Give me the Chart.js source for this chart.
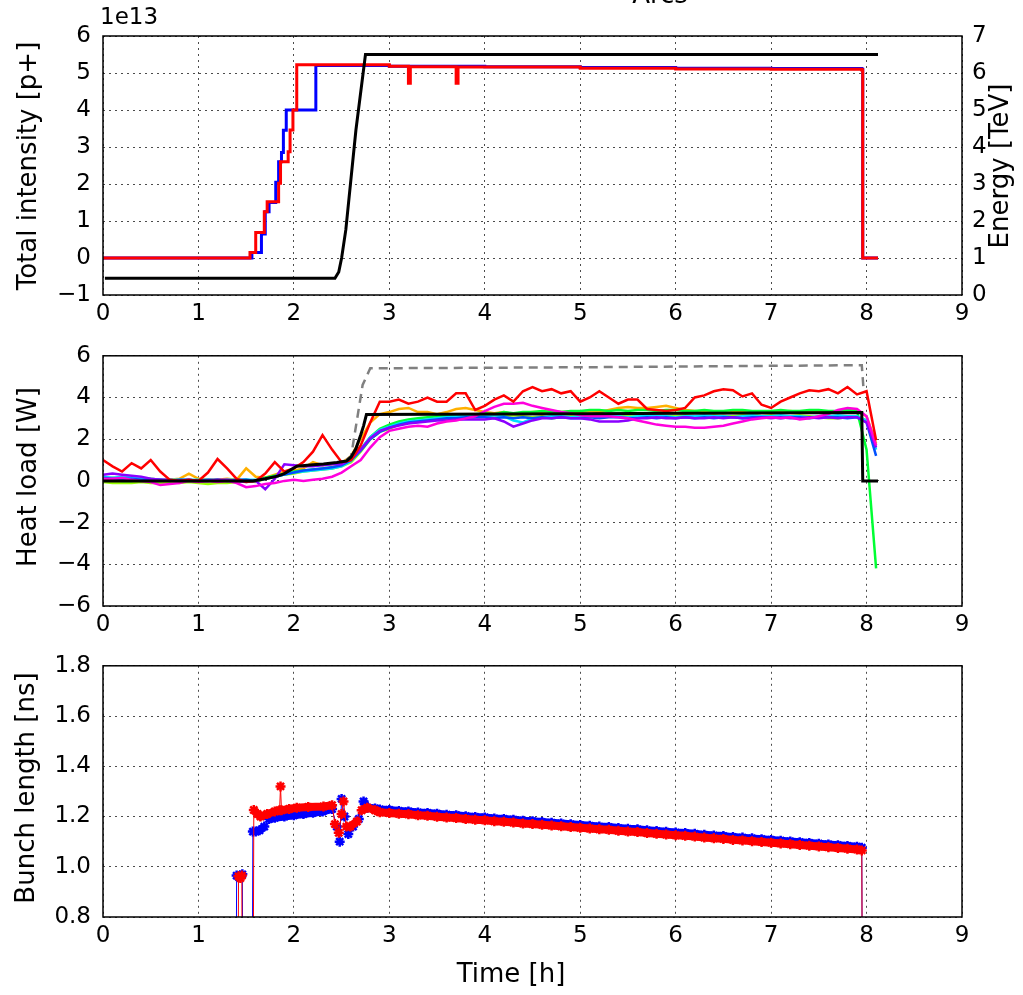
<!DOCTYPE html>
<html lang="en">
<head>
  <meta charset="UTF-8" />
  <title>Arcs - intensity, heat load, bunch length</title>
  <script src="https://cdn.jsdelivr.net/npm/chart.js"></script>
  <style>
    body {
      margin: 0;
      background: #fff;
      width: 1023px;
      height: 995px;
      overflow: hidden;
      position: relative;
      font-family: 'DejaVu Sans', sans-serif;
    }
    .panel { position: absolute; left: 0; width: 1023px; }
    #panelA { top: 0; height: 330px; }
    #panelB { top: 330px; height: 310px; }
    #panelC { top: 640px; height: 355px; }
  </style>
</head>
<body>
  <div class="panel" id="panelA"><canvas id="intChart"></canvas></div>
  <div class="panel" id="panelB"><canvas id="heatChart"></canvas></div>
  <div class="panel" id="panelC"><canvas id="blChart"></canvas></div>

  <script>
    // ---- top panel: total intensity (1e13 p+) and energy (TeV) ----
    const intBlueT = [0, 1.56, 1.66, 1.70, 1.74, 1.81, 1.84, 1.87, 1.89, 1.92, 2.23, 3.0, 4.0, 5.0, 6.0, 7.0, 7.95, 7.96, 8.12];
    const intBlue  = [0, 0.15, 0.65, 1.25, 1.5, 2.05, 2.6, 2.85, 3.45, 4.0, 5.2, 5.18, 5.17, 5.15, 5.13, 5.12, 5.1, 0, 0];
    const intRedT  = [0, 1.54, 1.60, 1.69, 1.72, 1.84, 1.86, 1.94, 1.96, 1.99, 2.03, 3.0, 3.2, 3.22, 3.7, 3.72, 5.0, 6.0, 7.0, 7.95, 7.96, 8.12];
    const intRed   = [0, 0.15, 0.69, 1.25, 1.52, 2.02, 2.6, 2.87, 3.46, 4.0, 5.22, 5.18, 4.72, 5.17, 4.72, 5.16, 5.13, 5.11, 5.1, 5.08, 0, 0];
    const energyT  = [0.02, 2.43, 2.47, 2.50, 2.544, 2.65, 2.75, 8.12];
    const energy   = [0.45, 0.45, 0.62, 1.0, 1.76, 4.46, 6.5, 6.5];

    // ---- middle panel: heat load (W), one value per 0.1 h ----
    const hlT = [0, 0.1, 0.2, 0.3, 0.4, 0.5, 0.6, 0.7, 0.8, 0.9,
      1.0, 1.1, 1.2, 1.3, 1.4, 1.5, 1.6, 1.7, 1.8, 1.9,
      2.0, 2.1, 2.2, 2.3, 2.4, 2.5, 2.6, 2.7, 2.8, 2.9,
      3.0, 3.1, 3.2, 3.3, 3.4, 3.5, 3.6, 3.7, 3.8, 3.9,
      4.0, 4.1, 4.2, 4.3, 4.4, 4.5, 4.6, 4.7, 4.8, 4.9,
      5.0, 5.1, 5.2, 5.3, 5.4, 5.5, 5.6, 5.7, 5.8, 5.9,
      6.0, 6.1, 6.2, 6.3, 6.4, 6.5, 6.6, 6.7, 6.8, 6.9,
      7.0, 7.1, 7.2, 7.3, 7.4, 7.5, 7.6, 7.7, 7.8, 7.9,
      8.0, 8.1];
    const hlRed = [1.0, 0.7, 0.45, 0.85, 0.6, 1.0, 0.45, 0.05, 0.0, 0.05,
      0.0, 0.4, 1.05, 0.6, 0.1, -0.05, 0.0, 0.35, 0.9, 0.45,
      0.6, 0.9, 1.4, 2.2, 1.5, 0.9, 1.0, 1.7, 2.8, 3.8,
      3.8, 3.9, 3.7, 3.8, 4.0, 3.8, 3.8, 4.2, 4.2, 3.4,
      3.6, 3.9, 4.1, 3.8, 4.3, 4.5, 4.3, 4.4, 4.2, 4.3,
      3.8, 4.0, 4.3, 4.0, 3.7, 3.9, 3.9, 3.45, 3.4, 3.35,
      3.4, 3.5, 4.0, 4.1, 4.3, 4.4, 4.35, 4.05, 4.2, 3.65,
      3.5, 3.8, 4.0, 4.2, 4.35, 4.3, 4.4, 4.2, 4.5, 4.15,
      4.3, 1.95];
    const hlOrange = [0.1, 0.15, 0.1, 0.1, 0.05, 0.1, 0.05, 0.05, 0.1, 0.35,
      0.1, 0.05, 0.05, 0.1, 0.05, 0.6, 0.2, 0.15, 0.3, 0.45,
      0.5, 0.6, 0.9, 0.75, 0.8, 0.85, 1.2, 2.0, 2.8, 3.2,
      3.3, 3.45, 3.5, 3.3, 3.3, 3.2, 3.3, 3.45, 3.5, 3.4,
      3.3, 3.25, 3.3, 3.2, 3.25, 3.3, 3.3, 3.35, 3.3, 3.3,
      3.3, 3.35, 3.3, 3.4, 3.5, 3.55, 3.5, 3.5, 3.55, 3.6,
      3.5, 3.4, 3.35, 3.3, 3.3, 3.25, 3.3, 3.3, 3.25, 3.3,
      3.3, 3.3, 3.35, 3.3, 3.3, 3.35, 3.3, 3.3, 3.4, 3.35,
      3.1, 1.8];
    const hlLime = [-0.05, -0.1, -0.1, -0.1, -0.05, -0.1, -0.1, -0.05, -0.1, -0.05,
      -0.1, -0.15, -0.1, -0.1, -0.05, 0.0, -0.05, 0.1, 0.2, 0.3,
      0.35, 0.45, 0.5, 0.55, 0.6, 0.7, 0.9, 1.4, 2.0, 2.35,
      2.5, 2.7, 2.8, 2.85, 2.9, 3.0, 2.95, 3.05, 3.1, 3.1,
      3.1, 3.15, 3.1, 3.15, 3.1, 3.05, 3.1, 3.0, 3.05, 3.1,
      3.15, 3.1, 3.1, 3.15, 3.2, 3.15, 3.1, 3.05, 3.1, 3.1,
      3.1, 3.15, 3.1, 3.1, 3.15, 3.1, 3.1, 3.15, 3.2, 3.1,
      3.15, 3.1, 3.1, 3.15, 3.1, 3.05, 3.0, 3.0, 3.05, 3.1,
      2.9, 1.7];
    const hlGreen = [0.0, 0.05, 0.0, 0.0, 0.05, 0.0, 0.0, 0.05, 0.0, 0.0,
      0.0, 0.0, 0.05, 0.0, 0.0, 0.05, 0.0, 0.15, 0.25, 0.35,
      0.45, 0.5, 0.55, 0.6, 0.65, 0.75, 1.0, 1.5, 2.1, 2.5,
      2.7, 2.85, 2.95, 3.0, 3.05, 3.1, 3.1, 3.15, 3.2, 3.2,
      3.25, 3.2, 3.3, 3.25, 3.3, 3.3, 3.35, 3.3, 3.3, 3.35,
      3.35, 3.4, 3.4, 3.35, 3.4, 3.35, 3.4, 3.4, 3.35, 3.4,
      3.4, 3.35, 3.35, 3.4, 3.35, 3.35, 3.4, 3.4, 3.35, 3.35,
      3.35, 3.4, 3.35, 3.35, 3.4, 3.4, 3.35, 3.35, 3.4, 3.35,
      1.5, -4.2];
    const hlCyan = [0.2, 0.15, 0.2, 0.15, 0.1, 0.1, 0.05, 0.05, 0.05, 0.05,
      0.05, 0.05, 0.0, 0.05, 0.05, 0.05, 0.05, 0.1, 0.2, 0.3,
      0.4, 0.45, 0.5, 0.55, 0.6, 0.7, 0.95, 1.5, 2.1, 2.45,
      2.6, 2.75, 2.85, 2.9, 2.95, 3.0, 3.05, 3.1, 3.1, 3.15,
      3.1, 3.15, 3.1, 2.9, 2.8, 3.0, 3.05, 3.1, 3.1, 3.05,
      3.1, 3.1, 3.05, 3.1, 3.1, 3.05, 3.1, 3.15, 3.1, 3.1,
      3.05, 3.1, 3.1, 3.15, 3.1, 3.1, 3.05, 3.1, 3.15, 3.1,
      3.1, 3.15, 3.1, 3.1, 3.05, 3.1, 3.1, 3.15, 3.1, 3.1,
      2.9, 1.5];
    const hlBlue = [0.15, 0.1, 0.1, 0.1, 0.05, 0.05, 0.05, 0.0, 0.05, 0.05,
      0.0, 0.05, 0.05, 0.0, 0.05, 0.05, 0.0, 0.1, 0.2, 0.3,
      0.4, 0.5, 0.55, 0.6, 0.65, 0.75, 1.0, 1.45, 2.0, 2.35,
      2.55, 2.7, 2.8, 2.85, 2.9, 2.95, 3.0, 3.0, 3.05, 3.05,
      3.05, 3.0, 3.05, 3.0, 3.05, 3.0, 3.05, 3.0, 3.05, 3.0,
      3.0, 3.05, 3.0, 3.05, 3.05, 3.0, 3.0, 3.05, 3.0, 3.05,
      3.0, 3.05, 3.0, 3.05, 3.0, 3.05, 3.05, 3.0, 3.05, 3.05,
      3.05, 3.0, 3.05, 3.05, 3.0, 3.05, 3.05, 3.05, 3.0, 3.05,
      2.8, 1.2];
    const hlPurple = [0.3, 0.35, 0.3, 0.25, 0.2, 0.1, 0.05, 0.05, 0.0, 0.05,
      0.0, 0.0, 0.05, 0.05, 0.0, -0.05, 0.0, -0.4, 0.1, 0.8,
      0.75, 0.7, 0.7, 0.75, 0.8, 0.8, 1.05, 1.5, 2.05, 2.4,
      2.55, 2.65, 2.75, 2.8, 2.85, 2.9, 2.9, 2.95, 2.95, 2.95,
      2.95, 3.0, 2.85, 2.6, 2.75, 2.9, 3.0, 3.0, 3.05, 3.0,
      3.0, 2.95, 2.85, 2.85, 2.85, 2.9, 3.0, 3.0, 3.05, 3.0,
      3.0, 3.05, 3.0, 3.0, 3.05, 3.0, 3.05, 3.0, 3.0, 3.05,
      3.0, 3.05, 3.0, 3.0, 3.05, 3.0, 3.05, 3.0, 3.05, 3.05,
      2.8, 1.6];
    const hlMagenta = [0.1, 0.1, 0.15, 0.05, 0.0, -0.05, -0.2, -0.15, -0.1, 0.0,
      -0.05, 0.0, -0.05, 0.0, -0.1, -0.3, -0.25, -0.15, -0.1, 0.0,
      0.05, 0.0, 0.05, 0.1, 0.2, 0.4, 0.7, 1.0, 1.6, 2.1,
      2.4, 2.5, 2.6, 2.65, 2.6, 2.75, 2.85, 2.9, 3.0, 3.1,
      3.35, 3.55, 3.7, 3.7, 3.75, 3.6, 3.5, 3.4, 3.3, 3.25,
      3.15, 3.1, 3.1, 3.1, 3.05, 3.0, 2.9, 2.8, 2.7, 2.65,
      2.6, 2.6, 2.55, 2.55, 2.6, 2.65, 2.75, 2.85, 2.95, 3.0,
      3.05, 3.0, 3.05, 2.95, 3.0, 3.1, 3.2, 3.4, 3.5, 3.45,
      3.1, 1.7];
    const modelT = [0, 1.57, 1.7, 1.83, 1.9, 2.03, 2.2, 2.31, 2.45, 2.55, 2.6, 2.65, 2.7, 2.73, 2.76, 5.0, 7.95, 7.96, 8.12];
    const model  = [0, 0, 0.1, 0.23, 0.35, 0.7, 0.78, 0.81, 0.88, 0.95, 1.15, 1.55, 2.2, 2.64, 3.18, 3.22, 3.28, 0, 0];
    const scaledT = [2.55, 2.6, 2.72, 2.8, 5.0, 7.95, 7.97];
    const scaled  = [1.0, 1.2, 4.6, 5.4, 5.45, 5.55, 4.3];

    // ---- bottom panel: bunch length (ns) ----
    const blBlueT = [1.39, 1.40, 1.42, 1.44, 1.46, 1.47, 1.56, 1.57, 1.60, 1.64, 1.69, 1.74, 1.80, 1.90, 2.00, 2.10, 2.20, 2.30, 2.40, 2.45, 2.48, 2.50, 2.53, 2.57, 2.62, 2.68, 2.73, 2.77, 2.85,
      2.9, 3.0, 3.1, 3.2, 3.3, 3.4, 3.5, 3.6, 3.7, 3.8, 3.9,
      4.0, 4.1, 4.2, 4.3, 4.4, 4.5, 4.6, 4.7, 4.8, 4.9,
      5.0, 5.1, 5.2, 5.3, 5.4, 5.5, 5.6, 5.7, 5.8, 5.9,
      6.0, 6.1, 6.2, 6.3, 6.4, 6.5, 6.6, 6.7, 6.8, 6.9,
      7.0, 7.1, 7.2, 7.3, 7.4, 7.5, 7.6, 7.7, 7.8, 7.9,
      7.95, 7.96];
    const blBlue = [0, 0.965, 0.96, 0.965, 0.97, 0, 0, 1.14, 1.14, 1.145, 1.16, 1.19, 1.195, 1.20, 1.205, 1.21, 1.215, 1.22, 1.23, 1.16, 1.10, 1.27, 1.20, 1.13, 1.16, 1.19, 1.26, 1.235, 1.232,
      1.228, 1.226, 1.222, 1.220, 1.216, 1.214, 1.211, 1.207, 1.205, 1.201, 1.198,
      1.196, 1.192, 1.190, 1.187, 1.183, 1.181, 1.178, 1.175, 1.172, 1.169,
      1.166, 1.163, 1.160, 1.158, 1.154, 1.151, 1.149, 1.145, 1.142, 1.139,
      1.136, 1.134, 1.131, 1.127, 1.124, 1.122, 1.118, 1.116, 1.113, 1.110,
      1.107, 1.104, 1.101, 1.098, 1.095, 1.092, 1.089, 1.086, 1.083, 1.080,
      1.076, 0];
    const blRedT = [1.41, 1.42, 1.44, 1.455, 1.46, 1.57, 1.58, 1.62, 1.65, 1.72, 1.80, 1.85, 1.86, 1.87, 1.95, 2.03, 2.15, 2.31, 2.40, 2.43, 2.47, 2.50, 2.52, 2.55, 2.59, 2.66, 2.71, 2.77, 2.85,
      2.9, 3.0, 3.1, 3.2, 3.3, 3.4, 3.5, 3.6, 3.7, 3.8, 3.9,
      4.0, 4.1, 4.2, 4.3, 4.4, 4.5, 4.6, 4.7, 4.8, 4.9,
      5.0, 5.1, 5.2, 5.3, 5.4, 5.5, 5.6, 5.7, 5.8, 5.9,
      6.0, 6.1, 6.2, 6.3, 6.4, 6.5, 6.6, 6.7, 6.8, 6.9,
      7.0, 7.1, 7.2, 7.3, 7.4, 7.5, 7.6, 7.7, 7.8, 7.9,
      7.95, 7.96];
    const blRed = [0, 0.962, 0.955, 0.965, 0, 0, 1.226, 1.21, 1.20, 1.21, 1.22, 1.225, 1.32, 1.225, 1.23, 1.235, 1.238, 1.24, 1.245, 1.17, 1.135, 1.21, 1.26, 1.16, 1.16, 1.18, 1.225, 1.235, 1.225,
      1.217, 1.214, 1.211, 1.209, 1.205, 1.203, 1.199, 1.196, 1.194, 1.190, 1.187,
      1.185, 1.181, 1.179, 1.176, 1.172, 1.170, 1.167, 1.164, 1.161, 1.158,
      1.155, 1.152, 1.149, 1.147, 1.143, 1.140, 1.138, 1.134, 1.131, 1.128,
      1.125, 1.123, 1.120, 1.116, 1.113, 1.111, 1.107, 1.105, 1.102, 1.099,
      1.096, 1.093, 1.090, 1.087, 1.084, 1.081, 1.078, 1.075, 1.072, 1.069,
      1.065, 0];

    Chart.defaults.font.family = "'DejaVu Sans', sans-serif";
    Chart.defaults.font.size = 23;
    Chart.defaults.color = '#000';
    Chart.defaults.animation = false;
    Chart.defaults.plugins.legend.display = false;
    Chart.defaults.plugins.tooltip.enabled = false;

    function pts(xs, ys) {
      return xs.map((x, i) => ({ x, y: ys[i] }));
    }

    function line(xs, ys, color, width, extra) {
      return Object.assign({
        data: pts(xs, ys),
        borderColor: color,
        backgroundColor: color,
        borderWidth: width,
        pointRadius: 0,
        tension: 0
      }, extra || {});
    }

    // matplotlib style minus sign
    const num = v => (v < 0 ? '\u2212' + Math.abs(v) : '' + v);

    // box round the plot area + free text (axis titles, offset text)
    const frame = {
      id: 'frame',
      afterDraw(chart, args, opts) {
        const { ctx, chartArea: a } = chart;
        ctx.save();
        ctx.strokeStyle = '#000';
        ctx.lineWidth = 1.5;
        ctx.strokeRect(a.left, a.top, a.right - a.left, a.bottom - a.top);
        ctx.fillStyle = '#000';
        (opts.texts || []).forEach(t => {
          ctx.save();
          ctx.font = (t.size || 26) + "px 'DejaVu Sans'";
          ctx.textAlign = t.align || 'center';
          ctx.textBaseline = t.base || 'middle';
          ctx.translate(t.x, t.y);
          if (t.rot) ctx.rotate(t.rot);
          ctx.fillText(t.text, 0, 0);
          ctx.restore();
        });
        ctx.restore();
      }
    };

    const gridStyle = { color: 'rgba(0,0,0,0.7)', lineWidth: 1, drawTicks: false };
    const dotted = { display: false, dash: [2, 4] };

    function xScale(h) {
      return {
        type: 'linear', min: 0, max: 9,
        ticks: { stepSize: 1, padding: 5, maxRotation: 0 },
        grid: gridStyle,
        border: dotted,
        afterFit: s => { s.height = h; }
      };
    }

    function yScale(min, max, step, fmt) {
      return {
        type: 'linear', position: 'left', min, max,
        ticks: { stepSize: step, padding: 12, callback: fmt || num },
        grid: gridStyle,
        border: dotted,
        afterFit: s => { s.width = 103; }
      };
    }

    const UP = -Math.PI / 2;

    new Chart(document.getElementById('intChart'), {
      type: 'line',
      data: {
        datasets: [
          line(energyT, energy, '#000000', 3, { yAxisID: 'y2' }),
          line(intRedT, intRed, '#ff0000', 3, { stepped: true }),
          line(intBlueT, intBlue, '#0000ff', 3, { stepped: true })
        ]
      },
      options: {
        responsive: true,
        maintainAspectRatio: false,
        layout: { padding: { top: 36, right: 0, bottom: 0, left: 0 } },
        scales: {
          x: xScale(35),
          y: yScale(-1, 6, 1),
          y2: {
            type: 'linear', position: 'right', min: 0, max: 7,
            ticks: { stepSize: 1, padding: 10 },
            grid: { display: false, drawTicks: false },
            border: { display: false },
            afterFit: s => { s.width = 61; }
          }
        },
        plugins: {
          frame: {
            texts: [
              { text: 'Total intensity [p+]', x: 29, y: 166, rot: UP },
              { text: 'Energy [TeV]', x: 1001, y: 166, rot: UP },
              { text: '1e13', x: 100, y: 30, align: 'left', base: 'bottom', size: 23 },
              { text: 'Arcs', x: 660, y: 3, base: 'alphabetic' }
            ]
          }
        }
      },
      plugins: [frame]
    });

    new Chart(document.getElementById('heatChart'), {
      type: 'line',
      data: {
        datasets: [
          line(modelT, model, '#000000', 3),
          line(scaledT, scaled, '#808080', 2.5, { borderDash: [9, 6] }),
          line(hlT, hlRed, '#ff0000', 2.5),
          line(hlT, hlMagenta, '#ff00dd', 2.5),
          line(hlT, hlPurple, '#8a00ff', 2.5),
          line(hlT, hlBlue, '#0050ff', 2.5),
          line(hlT, hlCyan, '#00e0ff', 2.5),
          line(hlT, hlGreen, '#00ff33', 2.5),
          line(hlT, hlLime, '#99ff00', 2.5),
          line(hlT, hlOrange, '#ffb000', 2.5)
        ]
      },
      options: {
        responsive: true,
        maintainAspectRatio: false,
        layout: { padding: { top: 18, right: 61, bottom: 0, left: 0 } },
        scales: {
          x: xScale(34),
          y: yScale(-6, 6, 2)
        },
        plugins: {
          frame: {
            texts: [
              { text: 'Heat load [W]', x: 29, y: 147, rot: UP }
            ]
          }
        }
      },
      plugins: [frame]
    });

    // dense markers merge into a thick band; jumps and connectors stay thin
    const marker = {
      pointStyle: 'star', pointRadius: 5, pointBorderWidth: 2.5,
      segment: {
        borderWidth: c => {
          const a = c.p0.parsed, b = c.p1.parsed;
          return a.y > 0.8 && b.y > 0.8 && a.x >= 1.58 && Math.abs(b.y - a.y) < 0.03 ? 8 : 1;
        }
      }
    };

    new Chart(document.getElementById('blChart'), {
      type: 'line',
      data: {
        datasets: [
          line(blRedT, blRed, '#ff0000', 1, marker),
          line(blBlueT, blBlue, '#0000ff', 1, marker)
        ]
      },
      options: {
        responsive: true,
        maintainAspectRatio: false,
        layout: { padding: { top: 19, right: 61, bottom: 0, left: 0 } },
        scales: {
          x: xScale(78),
          y: yScale(0.8, 1.8, 0.2, v => v.toFixed(1))
        },
        plugins: {
          frame: {
            texts: [
              { text: 'Bunch length [ns]', x: 27, y: 148, rot: UP },
              { text: 'Time [h]', x: 511, y: 335 }
            ]
          }
        }
      },
      plugins: [frame]
    });
  </script>
</body>
</html>
